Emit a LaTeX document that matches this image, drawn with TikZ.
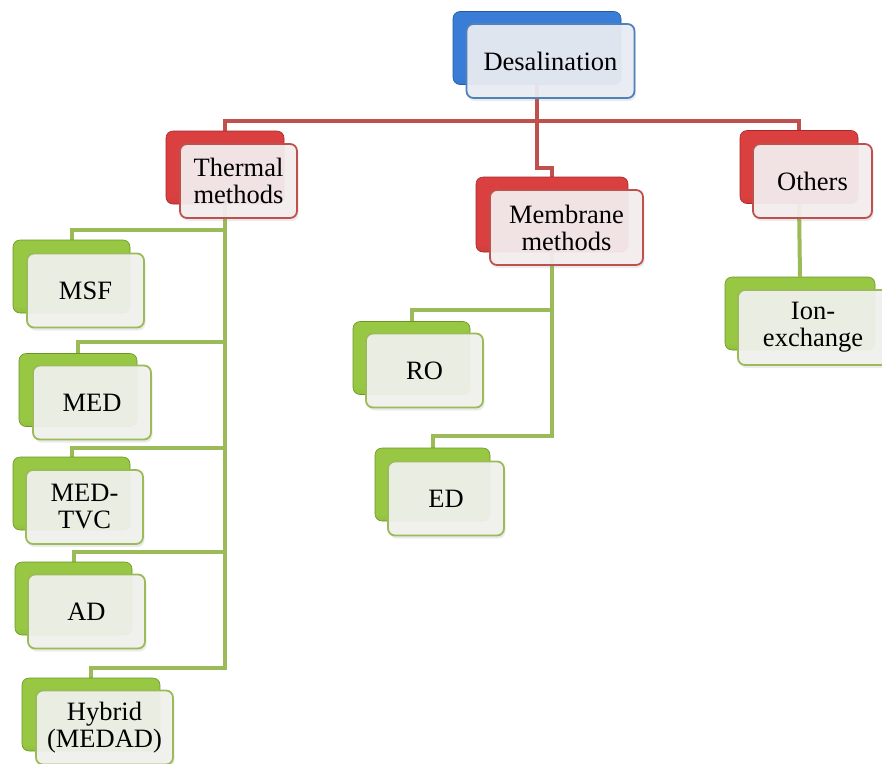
\documentclass[tikz,border=0pt]{standalone}
\usepackage{fontspec}
\setmainfont{Liberation Serif}
\usetikzlibrary{backgrounds,shadows}
\definecolor{blT}{HTML}{8CBDF5}
\definecolor{blB}{HTML}{3A7DD6}
\definecolor{blK}{HTML}{2459A8}
\definecolor{blL}{HTML}{4F81BD}
\definecolor{blF}{HTML}{E9ECF2}
\definecolor{rdT}{HTML}{F58A8A}
\definecolor{rdB}{HTML}{DA4040}
\definecolor{rdK}{HTML}{A82828}
\definecolor{rdL}{HTML}{C0504D}
\definecolor{rdF}{HTML}{F4EDED}
\definecolor{grT}{HTML}{D2EC96}
\definecolor{grB}{HTML}{97C743}
\definecolor{grK}{HTML}{6A9624}
\definecolor{grL}{HTML}{9BBB59}
\definecolor{grF}{HTML}{F0F1EC}
\pgfdeclareverticalshading{glossbl}{100bp}{color(0bp)=(blK); color(30bp)=(blB); color(86bp)=(blB); color(96bp)=(blT); color(100bp)=(blT)}
\pgfdeclareverticalshading{glossrd}{100bp}{color(0bp)=(rdK); color(30bp)=(rdB); color(86bp)=(rdB); color(96bp)=(rdT); color(100bp)=(rdT)}
\pgfdeclareverticalshading{glossgr}{100bp}{color(0bp)=(grK); color(30bp)=(grB); color(86bp)=(grB); color(96bp)=(grT); color(100bp)=(grT)}
\tikzset{
  backbox/.style={rectangle, rounded corners=7pt, minimum width=117pt,
    minimum height=73pt, inner sep=0pt, draw=#1K, line width=0.6pt,
    shading=gloss#1},
  frontbox/.style={rectangle, rounded corners=7pt, minimum width=117pt,
    minimum height=74pt, inner sep=2pt, draw=#1L, line width=1.8pt,
    fill=#1F, fill opacity=0.94, text opacity=1, align=center,
    font=\fontsize{26.5}{27}\selectfont,
    drop shadow={opacity=0.16, shadow xshift=1.5pt, shadow yshift=-3pt}},
  redc/.style={draw=rdL, line width=4pt},
  grc/.style={draw=grL, line width=4pt},
}
\begin{document}
\begin{tikzpicture}[x=1pt, y=-1pt]
\useasboundingbox (0,0) rectangle (882,763);
\clip (0,0) rectangle (882,763);
% top
\node[backbox=bl, minimum width=168pt] (desb) at (537,48) {};
\node[frontbox=bl, minimum width=168pt] (des) at (550.5,61) {Desalination};
% level 1
\node[backbox=rd, minimum width=118pt] (thb) at (225,167.5) {};
\node[frontbox=rd] (th) at (238.5,181) {Thermal\\methods};
\node[backbox=rd, minimum width=152pt, minimum height=75pt] (memb) at (552,214.5) {};
\node[frontbox=rd, minimum width=153pt, minimum height=75pt] (mem) at (566.5,227.5) {Membrane\\methods};
\node[backbox=rd, minimum width=118pt] (othb) at (799,167) {};
\node[frontbox=rd, minimum width=119pt] (oth) at (812.5,181) {Others};
% thermal children
\node[backbox=gr] (msfb) at (71.5,276.5) {};
\node[frontbox=gr] (msf) at (85.5,290.5) {MSF};
\node[backbox=gr, minimum width=118pt] (medb) at (78,390) {};
\node[frontbox=gr, minimum width=118pt] (med) at (92,402.5) {MED};
\node[backbox=gr] (tvcb) at (71.5,493.5) {};
\node[frontbox=gr] (tvc) at (84.5,507) {MED-\\TVC};
\node[backbox=gr] (adb) at (73.5,598.5) {};
\node[frontbox=gr] (ad) at (86.5,611.5) {AD};
\node[backbox=gr, minimum width=138pt] (hyb) at (91,714.5) {};
\node[frontbox=gr, minimum width=137pt] (hy) at (104.5,727.5) {Hybrid\\(MEDAD)};
% membrane children
\node[backbox=gr] (rob) at (411.5,358) {};
\node[frontbox=gr] (ro) at (424.5,370.5) {RO};
\node[backbox=gr, minimum width=115pt] (edb) at (432.5,484.5) {};
\node[frontbox=gr, minimum width=116pt] (ed) at (446,498.5) {ED};
% others child
\node[backbox=gr, minimum width=150pt] (ionb) at (800,313.5) {};
\node[frontbox=gr, minimum width=150pt, minimum height=75pt] (ion) at (813,327.5) {Ion-\\exchange};
% connectors
\coordinate (yR) at (0,121);
\coordinate (yM) at (0,168);
\coordinate (g1) at (0,230);
\coordinate (g2) at (0,342);
\coordinate (g3) at (0,448);
\coordinate (g4) at (0,552);
\coordinate (g5) at (0,668);
\coordinate (m1) at (0,310);
\coordinate (m2) at (0,436);
\begin{scope}[on background layer]
\draw[redc] (desb.south) -- (desb.south |- yR);
\draw[redc] (thb.north) -- (thb.north |- yR) -- (othb.north |- yR) -- (othb.north);
\draw[redc] (desb.south |- yR) -- (desb.south |- yM) -| (memb.north);
\draw[grc] (thb.south) -- (thb.south |- g5) -| (hyb.north);
\draw[grc] (thb.south |- g1) -| (msfb.north);
\draw[grc] (thb.south |- g2) -| (medb.north);
\draw[grc] (thb.south |- g3) -| (tvcb.north);
\draw[grc] (thb.south |- g4) -| (adb.north);
\draw[grc] (memb.south) -- (memb.south |- m2) -| (edb.north);
\draw[grc] (memb.south |- m1) -| (rob.north);
\draw[grc] (othb.south) -- (ionb.north);
\end{scope}
\end{tikzpicture}
\end{document}
